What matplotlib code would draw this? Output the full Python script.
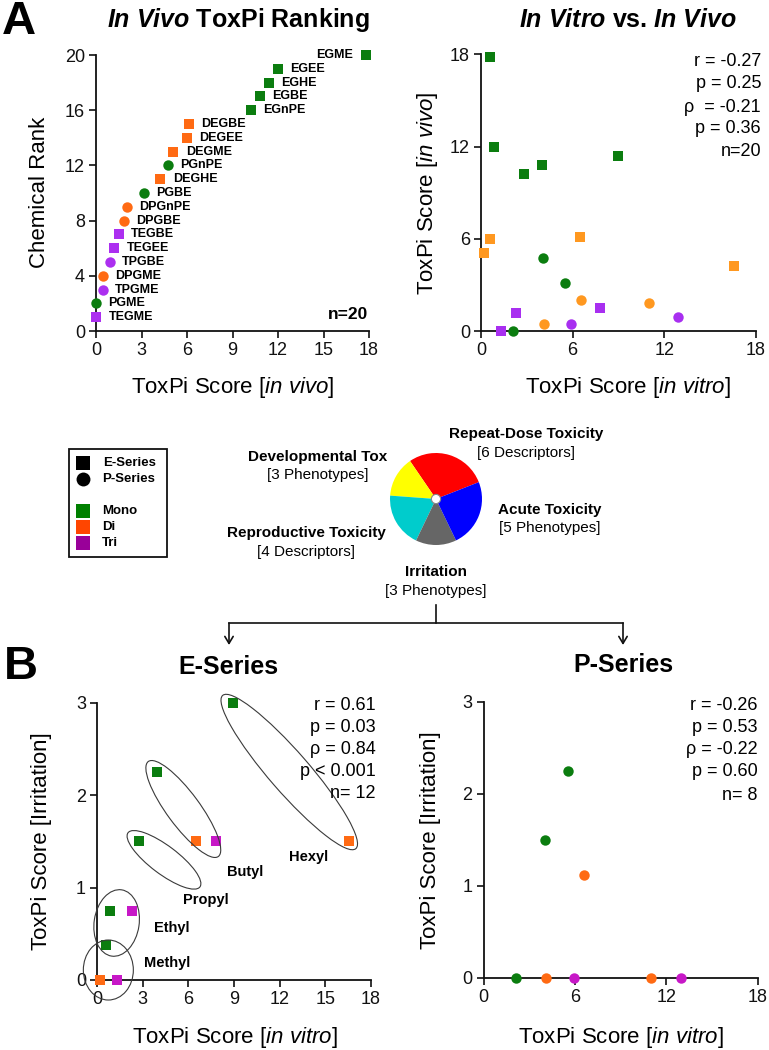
import numpy as np
import matplotlib
matplotlib.use('Agg')
import matplotlib.pyplot as plt
from matplotlib.patches import Ellipse, FancyArrowPatch, Circle, Rectangle
from matplotlib.lines import Line2D
from matplotlib.transforms import ScaledTranslation

plt.rcParams['font.family'] = ['Liberation Sans', 'DejaVu Sans']
plt.rcParams['mathtext.fontset'] = 'custom'
plt.rcParams['mathtext.rm'] = 'Liberation Sans'
plt.rcParams['mathtext.it'] = 'Liberation Sans:italic'
plt.rcParams['mathtext.bf'] = 'Liberation Sans:italic:bold'

# ---------------- data ----------------
chemicals = ['EGME', 'EGEE', 'EGnPE', 'EGBE', 'EGHE',
             'DEGME', 'DEGEE', 'DEGBE', 'DEGHE',
             'TEGME', 'TEGEE', 'TEGBE',
             'PGME', 'PGnPE', 'PGBE',
             'DPGME', 'DPGnPE', 'DPGBE',
             'TPGME', 'TPGBE']
series = ['E'] * 12 + ['P'] * 8
glycol_class = ['Mono'] * 5 + ['Di'] * 4 + ['Tri'] * 3 + ['Mono'] * 3 + ['Di'] * 3 + ['Tri'] * 2
in_vivo = [17.8, 12.0, 10.2, 10.8, 11.4,
           5.1, 6.0, 6.1, 4.25,
           0.0, 1.2, 1.5,
           0.0, 4.75, 3.15,
           0.46, 2.02, 1.82,
           0.44, 0.9]
in_vitro = [0.6, 0.87, 2.79, 3.97, 8.95,
            0.2, 0.6, 6.5, 16.55,
            1.3, 2.28, 7.8,
            2.12, 4.03, 5.51,
            4.1, 6.56, 11.0,
            5.92, 12.94]
irritation = [0.375, 0.75, 1.5, 2.25, 3.0,
              0.0, 0.375, 1.5, 1.5,
              0.0, 0.75, 1.5,
              0.0, 1.5, 2.25,
              0.0, 1.125, 0.0,
              0.0, 0.0]

stats_ab = ['r = -0.27', 'p = 0.25', '\u03c1  = -0.21', 'p = 0.36', 'n=20']
stats_e = ['r = 0.61', 'p = 0.03', '\u03c1 = 0.84', 'p < 0.001', 'n= 12']
stats_p = ['r = -0.26', 'p = 0.53', '\u03c1 = -0.22', 'p = 0.60', 'n= 8']

pie_names = ['Repeat-Dose Toxicity', 'Developmental Tox', 'Reproductive Toxicity', 'Irritation', 'Acute Toxicity']
pie_counts = [6, 3, 4, 3, 5]
pie_units = ['Descriptors', 'Phenotypes', 'Descriptors', 'Phenotypes', 'Phenotypes']
pie_colors = ['#ff0000', '#ffff00', '#00cccc', '#666666', '#0000ff']

group_names = ['Methyl', 'Ethyl', 'Propyl', 'Butyl', 'Hexyl']

in_vivo = np.array(in_vivo)
in_vitro = np.array(in_vitro)
irritation = np.array(irritation)
n = len(chemicals)
order = np.argsort(in_vivo, kind='stable')
rank = np.empty(n)
rank[order] = np.arange(1, n + 1)

col_tl = {'Mono': '#0b7d0f', 'Di': '#ff6a13', 'Tri': '#ac2ff0'}
col_tr = {'Mono': '#0b7d0f', 'Di': '#ff9820', 'Tri': '#a82ff0'}
col_b = {'Mono': '#0b7d0f', 'Di': '#ff6a13', 'Tri': '#c718c7'}
col_leg = {'Mono': '#008000', 'Di': '#ff4500', 'Tri': '#990099'}
mk = {'E': 's', 'P': 'o'}

W, H = 769, 1050
fig = plt.figure(figsize=(W / 100, H / 100), dpi=100)


def fx(x):
    return x / W


def fy(y):
    return 1 - y / H


def axes_px(l, t, r, b):
    return fig.add_axes([l / W, 1 - b / H, (r - l) / W, (b - t) / H])


def style(ax, xt, yt):
    for s in ['top', 'right']:
        ax.spines[s].set_visible(False)
    for s in ['left', 'bottom']:
        ax.spines[s].set_linewidth(1.3)
        ax.spines[s].set_color('#111111')
    ax.tick_params(direction='out', length=5, width=1.2, labelsize=13, pad=3,
                   colors='#111111')
    ax.set_xticks(xt)
    ax.set_yticks(yt)
    ax.set_xlim(xt[0], xt[-1])
    ax.set_ylim(yt[0], yt[-1])
    ax.set_facecolor('none')


MS = 7.5

# ---------------- panel A left ----------------
ax1 = axes_px(96, 55, 369, 331)
style(ax1, [0, 3, 6, 9, 12, 15, 18], [0, 4, 8, 12, 16, 20])
for i in range(n):
    ax1.plot(in_vivo[i], rank[i], marker=mk[series[i]], ms=MS, color=col_tl[glycol_class[i]],
             ls='none', mew=0, clip_on=False, zorder=3)
    if rank[i] == n:
        ax1.annotate(chemicals[i], (in_vivo[i], rank[i]), xytext=(-9, 0), textcoords='offset points',
                     ha='right', va='center', fontsize=9, fontweight='bold')
    else:
        ax1.annotate(chemicals[i], (in_vivo[i], rank[i]), xytext=(9, 0), textcoords='offset points',
                     ha='left', va='center', fontsize=9, fontweight='bold')
ax1.text(0.997, 0.058, 'n=20', transform=ax1.transAxes, ha='right', va='center',
         fontsize=12.5, fontweight='bold')

# ---------------- panel A right ----------------
ax2 = axes_px(481, 54.3, 755.7, 331)
style(ax2, [0, 6, 12, 18], [0, 6, 12, 18])
for i in range(n):
    ax2.plot(in_vitro[i], in_vivo[i], marker=mk[series[i]], ms=MS, color=col_tr[glycol_class[i]],
             ls='none', mew=0, clip_on=False, zorder=3)
for k, (s, yy) in enumerate(zip(stats_ab, [62, 84, 107, 128, 151])):
    fig.text(fx(761), fy(yy), s, ha='right', va='center', fontsize=13)

# ---------------- panel B left (E-series) ----------------
ax3 = axes_px(97, 702.7, 371, 980)
style(ax3, [0, 3, 6, 9, 12, 15, 18], [0, 1, 2, 3])
for i in range(n):
    if series[i] != 'E':
        continue
    z = 2 if chemicals[i] == 'DEGEE' else 3
    ax3.plot(in_vitro[i], irritation[i], marker='s', ms=MS, color=col_b[glycol_class[i]],
             ls='none', mew=0, clip_on=False, zorder=z)
for s, yy in zip(stats_e, [706, 728, 750, 772, 794]):
    fig.text(fx(376), fy(yy), s, ha='right', va='center', fontsize=13)


def px_ellipse(ax, cx, cy, w, h, ang):
    tr = fig.dpi_scale_trans + ScaledTranslation(cx, cy, ax.transData)
    e = Ellipse((0, 0), w / 100, h / 100, angle=ang, transform=tr, fill=False,
                ec='#3a3a3a', lw=0.8, clip_on=False, zorder=4)
    ax.add_artist(e)


# (center x, center y) in data, (w, h) px, angle
ell = [(0.745, 0.108, 50, 60, 0),
       (1.29, 0.617, 45, 67, -8.6),
       (4.40, 1.30, 90, 28, -37),
       (5.67, 1.85, 118, 33, -53.6),
       (12.63, 2.25, 203, 40, -49)]
lab_pos = [(4.58, 0.18), (4.91, 0.56), (7.16, 0.865), (9.72, 1.17), (13.93, 1.33)]
for (cx, cy, w, h, a), (lx, ly), name in zip(ell, lab_pos, group_names):
    px_ellipse(ax3, cx, cy, w, h, a)
    ax3.text(lx, ly, name, ha='center', va='center', fontsize=10.5, fontweight='bold')

# ---------------- panel B right (P-series) ----------------
ax4 = axes_px(483.7, 702, 757.7, 978)
style(ax4, [0, 6, 12, 18], [0, 1, 2, 3])
for i in range(n):
    if series[i] != 'P':
        continue
    ax4.plot(in_vitro[i], irritation[i], marker='o', ms=MS, color=col_b[glycol_class[i]],
             ls='none', mew=0, clip_on=False, zorder=3)
for s, yy in zip(stats_p, [705, 727, 750, 772, 795]):
    fig.text(fx(758), fy(yy), s, ha='right', va='center', fontsize=13)

# ---------------- titles & labels ----------------
fig.text(fx(238), fy(20), r'$\mathbf{In\ Vivo}$ ToxPi Ranking', ha='center', va='center',
         fontsize=18, fontweight='bold')
fig.text(fx(628), fy(20), r'$\mathbf{In\ Vitro}$ vs. $\mathbf{In\ Vivo}$', ha='center', va='center',
         fontsize=18, fontweight='bold')
fig.text(fx(228), fy(667), 'E-Series', ha='center', va='center', fontsize=18, fontweight='bold')
fig.text(fx(623), fy(665), 'P-Series', ha='center', va='center', fontsize=18, fontweight='bold')
fig.text(fx(19), fy(22), 'A', ha='center', va='center', fontsize=34, fontweight='bold')
fig.text(fx(21), fy(667), 'B', ha='center', va='center', fontsize=34, fontweight='bold')

fig.text(fx(233), fy(387), r'ToxPi Score [$\mathit{in\ vivo}$]', ha='center', va='center', fontsize=16)
fig.text(fx(628), fy(387), r'ToxPi Score [$\mathit{in\ vitro}$]', ha='center', va='center', fontsize=16)
fig.text(fx(40), fy(192), 'Chemical Rank', ha='center', va='center', fontsize=16, rotation=90)
fig.text(fx(427), fy(193), r'ToxPi Score [$\mathit{in\ vivo}$]', ha='center', va='center',
         fontsize=16, rotation=90)
fig.text(fx(42), fy(841), 'ToxPi Score [Irritation]', ha='center', va='center', fontsize=16, rotation=90)
fig.text(fx(430), fy(840), 'ToxPi Score [Irritation]', ha='center', va='center', fontsize=16, rotation=90)
fig.text(fx(235), fy(1037), r'ToxPi Score [$\mathit{in\ vitro}$]', ha='center', va='center', fontsize=16)
fig.text(fx(621), fy(1037), r'ToxPi Score [$\mathit{in\ vitro}$]', ha='center', va='center', fontsize=16)

# ---------------- ToxPi pie ----------------
pcx, pcy, pr = 436, 499, 46
axp = axes_px(pcx - pr, pcy - pr, pcx + pr, pcy + pr)
axp.pie(pie_counts, colors=pie_colors, startangle=21.5, counterclock=True, radius=1,
        wedgeprops=dict(linewidth=0))
axp.set_xlim(-1, 1)
axp.set_ylim(-1, 1)
axp.set_aspect('equal')
axp.axis('off')
axp.add_patch(Circle((0, 0), 0.1, fc='white', ec='#888888', lw=0.8, zorder=5))

pie_lab = [(526, 434, 453), (318, 457, 475), (306, 533, 552), (436, 572, 591), (550, 510, 528)]
for (xx, y1, y2), name, cnt, unit in zip(pie_lab, pie_names, pie_counts, pie_units):
    fig.text(fx(xx), fy(y1), name, ha='center', va='center', fontsize=11, fontweight='bold')
    fig.text(fx(xx), fy(y2), '[%d %s]' % (cnt, unit), ha='center', va='center', fontsize=11)

# connectors
lc = '#111111'
fig.add_artist(Line2D([fx(436), fx(436)], [fy(605), fy(623)], color=lc, lw=1.2, transform=fig.transFigure))
fig.add_artist(Line2D([fx(229), fx(623)], [fy(623), fy(623)], color=lc, lw=1.2, transform=fig.transFigure))
for xx in [229, 623]:
    fig.add_artist(FancyArrowPatch((fx(xx), fy(623)), (fx(xx), fy(645)), transform=fig.transFigure,
                                   arrowstyle='->,head_length=5,head_width=3', color=lc, lw=1.2,
                                   shrinkA=0, shrinkB=0))

# ---------------- legend box ----------------
fig.add_artist(Rectangle((fx(69), fy(557)), (167 - 69) / W, (557 - 449) / H, transform=fig.transFigure,
                         fill=False, ec='#111111', lw=1.3))
fig.add_artist(Line2D([fx(83.3)], [fy(463)], marker='s', ms=10, color='black', mew=0, ls='none',
                      transform=fig.transFigure))
fig.add_artist(Line2D([fx(83.3)], [fy(479)], marker='o', ms=10, color='black', mew=0, ls='none',
                      transform=fig.transFigure))
fig.text(fx(103), fy(463), 'E-Series', ha='left', va='center', fontsize=9.5, fontweight='bold')
fig.text(fx(102), fy(479), 'P-Series', ha='left', va='center', fontsize=9.5, fontweight='bold')
for cls, yy in zip(['Mono', 'Di', 'Tri'], [511, 527, 543]):
    fig.add_artist(Line2D([fx(83.3)], [fy(yy)], marker='s', ms=10, color=col_leg[cls], mew=0, ls='none',
                          transform=fig.transFigure))
    fig.text(fx(102), fy(yy), cls, ha='left', va='center', fontsize=9.5, fontweight='bold')

fig.savefig('out.png', dpi=100)
